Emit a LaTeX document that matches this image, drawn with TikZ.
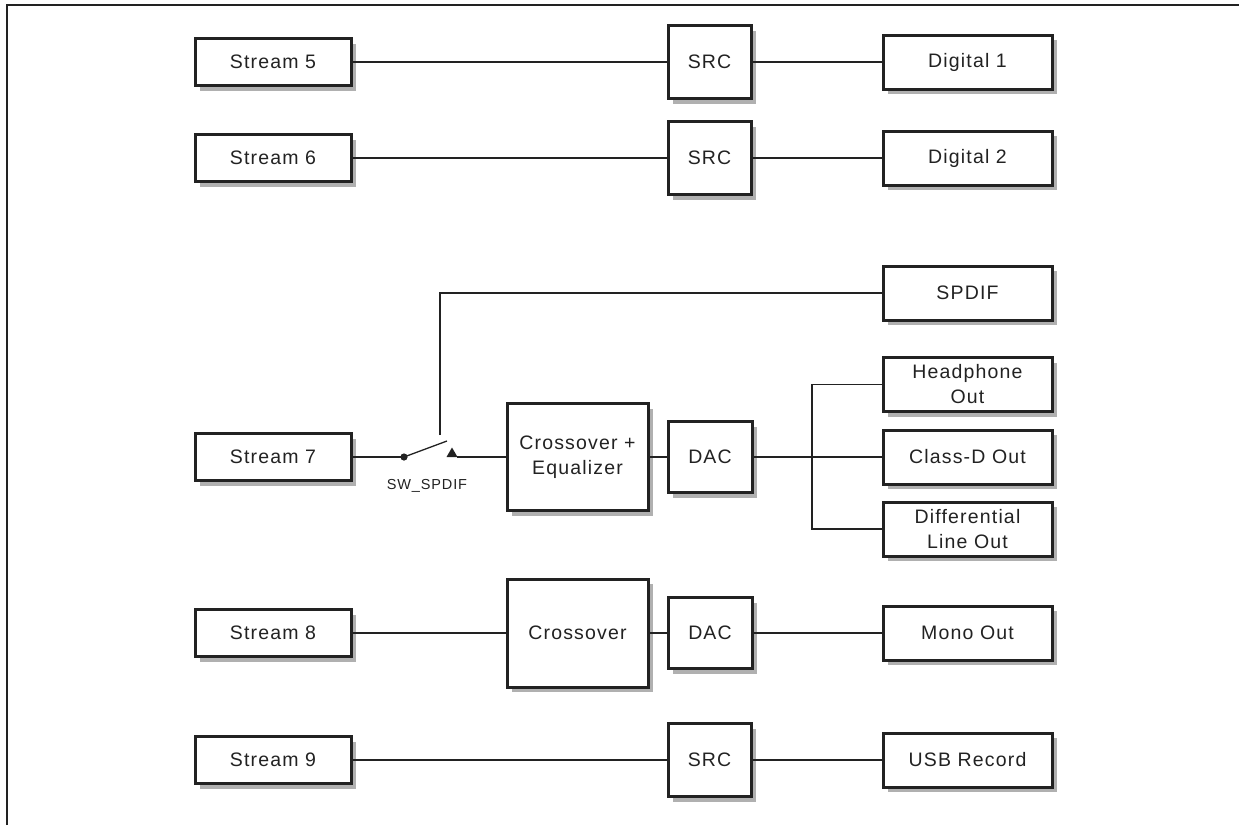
\documentclass[tikz,border=0pt]{standalone}
\usepackage{fontspec}
\usetikzlibrary{shadows}
\newfontfamily\lblfont{Liberation Sans}[LetterSpace=6]
\definecolor{ink}{HTML}{222222}
\definecolor{shade}{HTML}{B0B0B0}
\tikzset{
  blk/.style={draw=ink, line width=3pt, fill=white, inner sep=0pt,
    align=center, text=ink, font=\lblfont\fontsize{19.5}{25}\selectfont,
    drop shadow={shadow xshift=5pt, shadow yshift=-5pt, fill=shade, opacity=1}},
  srcblk/.style={blk, minimum width=156pt, minimum height=47pt},
  dstblk/.style={blk, minimum width=169pt, minimum height=54pt},
  midblk/.style={blk, minimum width=83pt, minimum height=73pt},
  dacblk/.style={blk, minimum width=84pt, minimum height=71pt},
  bigblk/.style={blk, minimum width=141pt, minimum height=107pt},
  wire/.style={draw=ink, line width=1.3pt},
  frame/.style={draw=ink, line width=2pt}
}
\begin{document}
\begin{tikzpicture}[x=1pt, y=-1pt]
\useasboundingbox (0,0) rectangle (1239,825);
\draw[frame] (7,825) -- (7,5) -- (1239,5);

% row: stream 5
\node[srcblk] (s5) at (273,62) {Stream 5};
\node[midblk] (src5) at (709.5,62) {SRC};
\node[dstblk] (d1) at (967.5,62) {Digital 1};
\draw[wire] (s5.east) -- (src5.west);
\draw[wire] (src5.east) -- (d1.west);

% row: stream 6
\node[srcblk] (s6) at (273,158) {Stream 6};
\node[midblk] (src6) at (709.5,158) {SRC};
\node[dstblk] (d2) at (967.5,158) {Digital 2};
\draw[wire] (s6.east) -- (src6.west);
\draw[wire] (src6.east) -- (d2.west);

% row: stream 7 with the SPDIF switch
\node[dstblk] (spdif) at (967.5,293) {SPDIF};
\node[srcblk] (s7) at (273,457) {Stream 7};
\node[bigblk] (cxe) at (577.5,457) {Crossover +\\Equalizer};
\node[dacblk] (dac7) at (710,457) {DAC};
\node[dstblk] (hp) at (967.5,384.5) {Headphone\\Out};
\node[dstblk] (cd) at (967.5,457) {Class-D Out};
\node[dstblk] (dl) at (967.5,529) {Differential\\Line Out};

\coordinate (swin) at (404,457);
\coordinate (swlever) at (447,441);
\coordinate (swout) at (457,457);
\coordinate (swtop) at (440,435);
\coordinate (bus) at (812,457);

\draw[wire] (s7.east) -- (swin);
\draw[wire] (swin) -- (swlever);
\fill[ink] (swin) circle (3.6pt);
\fill[ink] (446.5,457) -- (452,447.5) -- (457.5,457) -- cycle;
\draw[wire] (swout) -- (cxe.west);
\draw[wire] (swtop) -- (swtop |- spdif.west) -- (spdif.west);
\node[text=ink, font=\lblfont\fontsize{14.5}{17}\selectfont, anchor=north] (swlbl) at (427,476) {SW\_SPDIF};

\draw[wire] (cxe.east) -- (dac7.west);
\draw[wire] (dac7.east) -- (cd.west);
\draw[wire] (hp.west) -- (hp.west -| bus) -- (dl.west -| bus) -- (dl.west);

% row: stream 8
\node[srcblk] (s8) at (273,633) {Stream 8};
\node[bigblk, minimum height=108pt] (cx) at (577.5,633) {Crossover};
\node[dacblk] (dac8) at (710,633) {DAC};
\node[dstblk] (mono) at (967.5,633) {Mono Out};
\draw[wire] (s8.east) -- (cx.west);
\draw[wire] (cx.east) -- (dac8.west);
\draw[wire] (dac8.east) -- (mono.west);

% row: stream 9
\node[srcblk] (s9) at (273,760) {Stream 9};
\node[midblk] (src9) at (709.5,760) {SRC};
\node[dstblk] (usb) at (967.5,760) {USB Record};
\draw[wire] (s9.east) -- (src9.west);
\draw[wire] (src9.east) -- (usb.west);
\end{tikzpicture}
\end{document}
